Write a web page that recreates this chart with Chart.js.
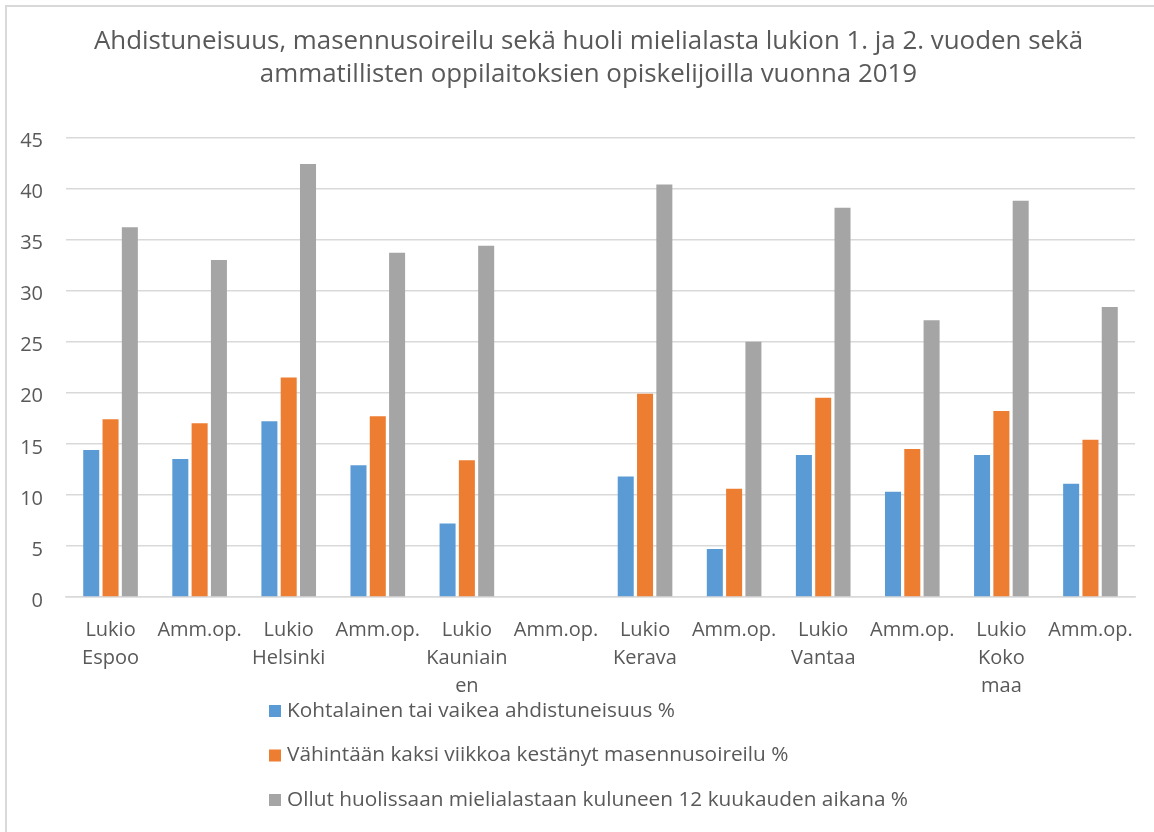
<!DOCTYPE html>
<html>
<head>
<meta charset="utf-8">
<script src="https://cdn.jsdelivr.net/npm/chart.js@4/dist/chart.umd.min.js"></script>
<style>
  html, body { margin: 0; padding: 0; background: #ffffff; }
  #wrap { position: relative; width: 1154px; height: 832px; overflow: hidden; }
  #frame { position: absolute; left: 5px; top: 5px; width: 1160px; height: 840px;
           border-top: 2px solid #d9d9d9; border-left: 2px solid #d9d9d9; box-sizing: border-box; pointer-events: none; }
  canvas { position: absolute; left: 0; top: 0; }
</style>
</head>
<body>
<div id="wrap">
  <canvas id="c" width="1154" height="832"></canvas>
  <div id="frame"></div>
</div>
<script>
const titleLines = [
  "Ahdistuneisuus, masennusoireilu sekä huoli mielialasta lukion 1. ja 2. vuoden sekä",
  "ammatillisten oppilaitoksien opiskelijoilla vuonna 2019"
];
const categories = [
  ["Lukio", "Espoo"], "Amm.op.",
  ["Lukio", "Helsinki"], "Amm.op.",
  ["Lukio", "Kauniain", "en"], "Amm.op.",
  ["Lukio", "Kerava"], "Amm.op.",
  ["Lukio", "Vantaa"], "Amm.op.",
  ["Lukio", "Koko", "maa"], "Amm.op."
];
const seriesNames = [
  "Kohtalainen tai vaikea ahdistuneisuus %",
  "Vähintään kaksi viikkoa kestänyt masennusoireilu %",
  "Ollut huolissaan mielialastaan kuluneen 12 kuukauden aikana %"
];
const anxiety    = [14.4, 13.5, 17.2, 12.9, 7.2, null, 11.8, 4.7, 13.9, 10.3, 13.9, 11.1];
const depression = [17.4, 17.0, 21.5, 17.7, 13.4, null, 19.9, 10.6, 19.5, 14.5, 18.2, 15.4];
const worried    = [36.2, 33.0, 42.4, 33.7, 34.4, null, 40.4, 25.0, 38.1, 27.1, 38.8, 28.4];
const yTicks = { min: 0, max: 45, step: 5 };
const colors = ["#5b9bd5", "#ed7d31", "#a5a5a5"];

const FONT = "'Open Sans', 'Noto Sans', sans-serif";
const TEXT = "#595959";

const titleLayout = { cx: 588.5, firstY: 41.6, lineHeight: 33.1, size: 25.9 };
const legendLayout = { x: 269, box: 12, gap: 6, firstY: 711, spacing: 44.5, size: 20.8 };

const titleAndLegend = {
  id: "titleAndLegend",
  afterDraw(chart) {
    const ctx = chart.ctx;
    ctx.save();
    // title
    ctx.font = titleLayout.size + "px " + FONT;
    ctx.textBaseline = "middle";
    ctx.textAlign = "center";
    ctx.fillStyle = TEXT;
    titleLines.forEach((t, i) => ctx.fillText(t, titleLayout.cx, titleLayout.firstY + i * titleLayout.lineHeight));
    // legend
    ctx.font = legendLayout.size + "px " + FONT;
    ctx.textAlign = "left";
    chart.data.datasets.forEach((ds, i) => {
      const cy = legendLayout.firstY + i * legendLayout.spacing;
      ctx.fillStyle = ds.backgroundColor;
      ctx.fillRect(legendLayout.x, cy - legendLayout.box / 2, legendLayout.box, legendLayout.box);
      ctx.fillStyle = TEXT;
      ctx.fillText(ds.label, legendLayout.x + legendLayout.box + legendLayout.gap, cy);
    });
    ctx.restore();
  }
};

const datasets = [anxiety, depression, worried].map((d, i) => ({
  label: seriesNames[i],
  data: d,
  backgroundColor: colors[i],
  borderWidth: 0,
  categoryPercentage: 0.65,
  barPercentage: 0.83
}));

new Chart(document.getElementById("c"), {
  type: "bar",
  data: { labels: categories, datasets },
  plugins: [titleAndLegend],
  options: {
    responsive: false,
    animation: false,
    devicePixelRatio: 1,
    layout: { padding: { left: 6, right: 19, top: 137.4, bottom: 113 } },
    plugins: {
      legend: { display: false },
      tooltip: { enabled: false },
      title: { display: false }
    },
    scales: {
      x: {
        grid: { display: false, drawTicks: false },
        border: { color: "#d9d9d9", width: 1.5 },
        ticks: { color: TEXT, font: { family: FONT, size: 20, lineHeight: 1.4 }, padding: 19, maxRotation: 0, autoSkip: false }
      },
      y: {
        min: yTicks.min, max: yTicks.max,
        afterFit(scale) { scale.width = 60; },
        grid: { color: "#d9d9d9", lineWidth: 1.5, drawTicks: false },
        border: { display: false },
        ticks: { stepSize: yTicks.step, color: TEXT, font: { family: FONT, size: 20 }, padding: 23, labelOffset: 4 }
      }
    }
  }
});
</script>
</body>
</html>
